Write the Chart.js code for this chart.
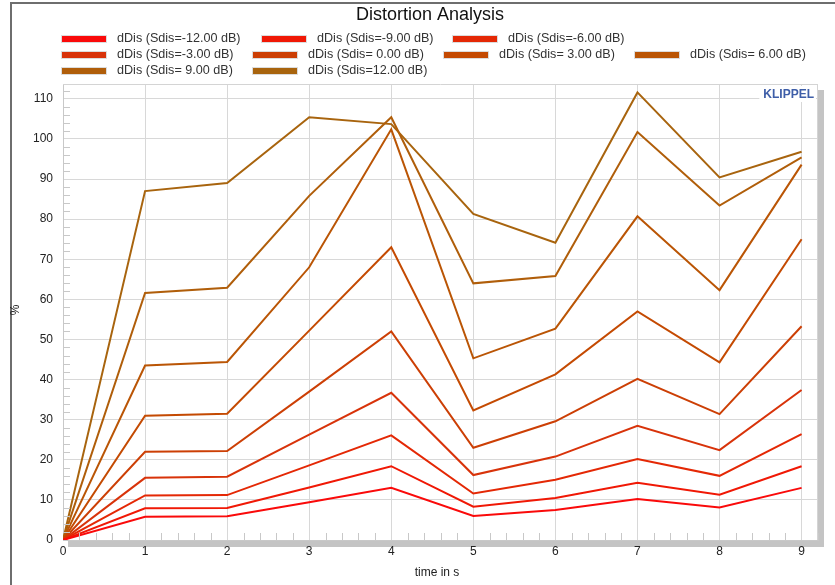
<!DOCTYPE html>
<html>
<head>
<meta charset="utf-8">
<script src="https://cdn.jsdelivr.net/npm/chart.js@4.4.1/dist/chart.umd.min.js"></script>
<style>
  html, body { margin: 0; padding: 0; background: #fff; }
  #box { width: 835px; height: 585px; position: relative; }
</style>
</head>
<body>
<div id="box"><canvas id="myChart" width="835" height="585"></canvas></div>
<script>
// time axis (s) and the nine dDis curves, one per Sdis step
const timeS = [0, 1, 2, 3, 4, 5, 6, 7, 8, 9];
const seriesLabels = [
  "dDis (Sdis=-12.00 dB)", "dDis (Sdis=-9.00 dB)", "dDis (Sdis=-6.00 dB)",
  "dDis (Sdis=-3.00 dB)", "dDis (Sdis= 0.00 dB)", "dDis (Sdis= 3.00 dB)",
  "dDis (Sdis= 6.00 dB)", "dDis (Sdis= 9.00 dB)", "dDis (Sdis=12.00 dB)"
];
const dDisM12 = [0, 5.8, 5.9, 9.4, 13.0, 6.0, 7.5, 10.2, 8.1, 13.0];
const dDisM9 = [0, 7.9, 8.0, 13.1, 18.4, 8.3, 10.5, 14.3, 11.3, 18.4];
const dDisM6 = [0, 11.1, 11.2, 18.6, 26.1, 11.6, 15.0, 20.2, 16.0, 26.4];
const dDisM3 = [0, 15.5, 15.8, 26.3, 36.7, 16.2, 20.8, 28.5, 22.4, 37.4];
const dDis0 = [0, 22.0, 22.2, 37.0, 52.0, 23.0, 29.6, 40.2, 31.4, 53.3];
const dDisP3 = [0, 31.0, 31.5, 52.2, 73.0, 32.3, 41.3, 57.0, 44.3, 75.0];
const dDisP6 = [0, 43.5, 44.4, 68.0, 102.4, 45.3, 52.7, 80.7, 62.3, 93.6];
const dDisP9 = [0, 61.6, 62.9, 85.8, 105.4, 64.0, 65.8, 101.7, 83.4, 95.4];
const dDisP12 = [0, 87.0, 89.0, 105.4, 103.7, 81.3, 74.1, 111.6, 90.4, 96.8];
const seriesColors = [
  "#fa0a0a", "#f01805", "#e42805", "#d8330a", "#cc3f05",
  "#c44a02", "#ba5505", "#b05e0a", "#a8640e"
];

const allSeries = [dDisM12, dDisM9, dDisM6, dDisM3, dDis0, dDisP3, dDisP6, dDisP9, dDisP12];

// legend slots (row, swatch x) like the Klippel layout
const legendSlots = [
  [0, 62], [0, 262], [0, 453],
  [1, 62], [1, 253], [1, 444], [1, 635],
  [2, 62], [2, 253]
];
const legendRowY = [39, 55, 71];

const font = "Liberation Sans, Arial, sans-serif";

const datasets = allSeries.map((vals, i) => ({
  label: seriesLabels[i],
  data: vals.map((v, k) => ({ x: timeS[k], y: v })),
  borderColor: seriesColors[i],
  backgroundColor: seriesColors[i],
  borderWidth: 2,
  pointRadius: 0,
  tension: 0,
  fill: false
}));

// extra drawing: frame, shadow, minor ticks, legend, titles, logo
const decor = {
  id: "decor",
  beforeDraw(chart) {
    const c = chart.ctx;
    const a = chart.chartArea;
    c.save();
    // gray drop shadow of the plot box
    c.fillStyle = "#c4c4c4";
    c.fillRect(a.left + 5, a.bottom + 1, a.right - a.left, 6);
    c.fillRect(a.right, a.top + 6, 6, a.bottom - a.top + 1);
    c.fillStyle = "#fff";
    c.fillRect(a.left, a.top, a.right - a.left, a.bottom - a.top);
    // outer border of the picture
    c.fillStyle = "#6e6e6e";
    c.fillRect(10, 2, 825, 2);
    c.fillRect(10, 2, 2, 583);
    c.restore();
  },
  afterDatasetsDraw(chart) {
    const c = chart.ctx;
    const a = chart.chartArea;
    const xs = chart.scales.x;
    const ys = chart.scales.y;
    c.save();
    // minor ticks
    c.strokeStyle = "#c8c8c8";
    c.lineWidth = 1;
    c.beginPath();
    for (let v = 0; v <= 113; v += 2) {
      if (v % 10 === 0) continue;
      const py = Math.round(ys.getPixelForValue(v)) + 0.5;
      c.moveTo(a.left, py);
      c.lineTo(a.left + 7, py);
    }
    for (let k = 1; k <= 46; k++) {
      if (k % 5 === 0) continue;
      const px = Math.round(xs.getPixelForValue(k / 5)) + 0.5;
      c.moveTo(px, a.bottom);
      c.lineTo(px, a.bottom - 7);
    }
    c.stroke();
    // plot box top / right edges
    c.strokeStyle = "#d4d4d4";
    c.beginPath();
    c.moveTo(a.left, a.top + 0.5);
    c.lineTo(a.right, a.top + 0.5);
    c.moveTo(a.right - 0.5, a.top);
    c.lineTo(a.right - 0.5, a.bottom);
    c.stroke();

    // KLIPPEL logo
    c.font = "bold 12px " + font;
    c.textAlign = "right";
    c.textBaseline = "middle";
    const tw = c.measureText("KLIPPEL").width;
    c.fillStyle = "#fff";
    c.fillRect(a.right - tw - 8, a.top + 2, tw + 6, 16);
    c.fillStyle = "#3e5ea8";
    c.fillText("KLIPPEL", a.right - 4, a.top + 11);

    // title
    c.fillStyle = "#111";
    c.font = "18px " + font;
    c.textAlign = "center";
    c.fillText("Distortion Analysis", 430, 15);

    // legend
    c.font = "12.6px " + font;
    c.textAlign = "left";
    chart.data.datasets.forEach((ds, i) => {
      const slot = legendSlots[i];
      const y = legendRowY[slot[0]];
      const x = slot[1];
      c.fillStyle = "#dcdcdc";
      c.fillRect(x - 1, y - 4, 46, 8);
      c.fillStyle = ds.borderColor;
      c.fillRect(x, y - 3, 44, 6);
      c.fillStyle = "#333";
      c.fillText(ds.label, x + 55, y);
    });

    // axis titles
    c.fillStyle = "#222";
    c.font = "12px " + font;
    c.textAlign = "center";
    c.fillText("time in s", 437, 573);
    c.translate(16, 310);
    c.rotate(-Math.PI / 2);
    c.fillText("%", 0, 0);
    c.restore();
  }
};

const ctx = document.getElementById("myChart");
const myChart = new Chart(ctx, {
  type: "line",
  data: { datasets: datasets },
  options: {
    responsive: false,
    animation: false,
    layout: { padding: { left: 10, top: 84, right: 17, bottom: 0 } },
    plugins: {
      legend: { display: false },
      title: { display: false },
      tooltip: { enabled: false }
    },
    scales: {
      x: {
        type: "linear",
        min: 0,
        max: 9.2,
        afterFit: (s) => { s.height = 45; },
        ticks: {
          stepSize: 1,
          includeBounds: false,
          color: "#222",
          font: { family: font, size: 12 },
          padding: 4
        },
        grid: { color: "#d8d8d8", drawTicks: false },
        border: { color: "#c8c8c8" }
      },
      y: {
        min: 0,
        max: 113.7,
        afterFit: (s) => { s.width = 53; },
        ticks: {
          stepSize: 10,
          includeBounds: false,
          color: "#222",
          font: { family: font, size: 12 },
          padding: 10
        },
        grid: { color: "#d8d8d8", drawTicks: false },
        border: { color: "#c8c8c8" }
      }
    }
  },
  plugins: [decor]
});
</script>
</body>
</html>
